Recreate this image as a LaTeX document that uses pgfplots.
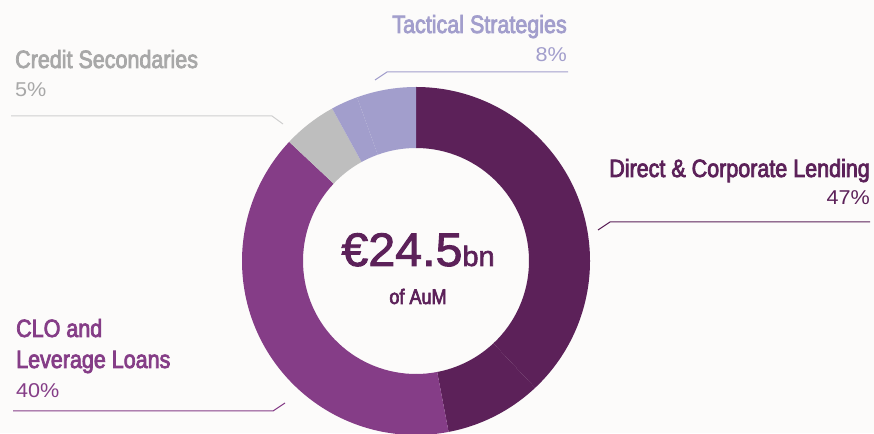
\documentclass[border=0pt]{standalone}
\usepackage{fontspec}
\usepackage{pgfplots}
\usepackage{pgfplotstable}
\pgfplotsset{compat=1.18}
\newfontfamily\labelfont{Liberation Sans}[FakeStretch=0.86,FakeBold=3]
\newfontfamily\pctfont{Liberation Sans}[FakeStretch=1.08]
\newfontfamily\bigfont{Liberation Sans}[FakeStretch=1.03,FakeBold=2]
\definecolor{bg}{HTML}{FCFBFA}
\definecolor{cDirect}{HTML}{5C2159}
\definecolor{cCLO}{HTML}{853D87}
\definecolor{cCredit}{HTML}{BEBEBE}
\definecolor{cTact}{HTML}{A29ECC}
\definecolor{tCredit}{HTML}{A8A8A8}
\definecolor{tTact}{HTML}{A29ECC}
\definecolor{lCredit}{HTML}{CFCFCF}

% slice shares in percent (sub-slices of the same segment share a colour)
\pgfplotstableread{
pct
38
9
3
37
5
2.5
5.5
}\slices

\newcommand\donutslice[2]{%
  \fill[#2] (axis cs:416,172) ++(\csname sa#1\endcsname:174pt)
    arc[start angle=\csname sa#1\endcsname, end angle=\csname ea#1\endcsname, radius=174pt]
    -- ++(\csname ea#1\endcsname+180:61pt)
    arc[start angle=\csname ea#1\endcsname, end angle=\csname sa#1\endcsname, radius=113pt]
    -- cycle;}

\begin{document}
\begin{tikzpicture}
\pgfplotstablegetrowsof{\slices}
\pgfmathtruncatemacro\lastrow{\pgfplotsretval-1}
\gdef\acc{0}
\pgfplotsforeachungrouped \i in {0,...,\lastrow}{%
  \pgfplotstablegetelem{\i}{pct}\of\slices
  \pgfmathsetmacro\sa{90-3.6*\acc}%
  \pgfmathsetmacro\newacc{\acc+\pgfplotsretval}%
  \pgfmathsetmacro\ea{90-3.6*\newacc}%
  \expandafter\xdef\csname sa\i\endcsname{\sa}%
  \expandafter\xdef\csname ea\i\endcsname{\ea}%
  \xdef\acc{\newacc}%
}
\path[use as bounding box] (0,0) rectangle (874pt,433pt);
\fill[bg] (0,0) rectangle (874pt,433pt);
\begin{axis}[
  scale only axis, width=874pt, height=433pt,
  xmin=0, xmax=874, ymin=0, ymax=433,
  hide axis, clip=false, anchor=south west, at={(0,0)},
]
\addplot[draw=none] coordinates {(0,0) (874,433)};
\donutslice{0}{cDirect}
\donutslice{1}{cDirect}
\donutslice{2}{cCLO}
\donutslice{3}{cCLO}
\donutslice{4}{cCredit}
\donutslice{5}{cTact}
\donutslice{6}{cTact}

% centre text
\node[anchor=base, text=cDirect, inner sep=0pt] at (axis cs:418,167)
  {\bigfont\fontsize{47}{50}\selectfont €24.5{\fontsize{28}{30}\selectfont bn}};
\node[anchor=base, text=cDirect, inner sep=0pt] at (axis cs:418,129)
  {\labelfont\fontsize{21}{24}\selectfont of AuM};

% Tactical Strategies
\node[anchor=base east, text=tTact, inner sep=0pt] at (axis cs:567,400)
  {\labelfont\fontsize{25}{28}\selectfont Tactical Strategies};
\node[anchor=base east, text=tTact, inner sep=0pt] at (axis cs:567,371)
  {\pctfont\fontsize{20}{24}\selectfont 8\%};
\draw[cTact, line width=1pt] (axis cs:375,353) -- (axis cs:387,361) -- (axis cs:568,361);

% Credit Secondaries
\node[anchor=base west, text=tCredit, inner sep=0pt] at (axis cs:15,365)
  {\labelfont\fontsize{25}{28}\selectfont Credit Secondaries};
\node[anchor=base west, text=tCredit, inner sep=0pt] at (axis cs:15,336)
  {\pctfont\fontsize{20}{24}\selectfont 5\%};
\draw[lCredit, line width=1pt] (axis cs:11,317) -- (axis cs:272,317) -- (axis cs:283,309);

% Direct & Corporate Lending
\node[anchor=base east, text=cDirect, inner sep=0pt] at (axis cs:870,256)
  {\labelfont\fontsize{25}{28}\selectfont Direct \& Corporate Lending};
\node[anchor=base east, text=cDirect, inner sep=0pt] at (axis cs:870,228)
  {\pctfont\fontsize{20}{24}\selectfont 47\%};
\draw[cDirect, line width=1pt] (axis cs:870,211) -- (axis cs:610,211) -- (axis cs:598,203);

% CLO and Leverage Loans
\node[anchor=base west, text=cCLO, inner sep=0pt] at (axis cs:16,96)
  {\labelfont\fontsize{25}{28}\selectfont CLO and};
\node[anchor=base west, text=cCLO, inner sep=0pt] at (axis cs:16,65)
  {\labelfont\fontsize{25}{28}\selectfont Leverage Loans};
\node[anchor=base west, text=cCLO, inner sep=0pt] at (axis cs:16,35)
  {\pctfont\fontsize{20}{24}\selectfont 40\%};
\draw[cCLO, line width=1pt] (axis cs:13,22) -- (axis cs:273,22) -- (axis cs:285,30);
\end{axis}
\end{tikzpicture}
\end{document}
